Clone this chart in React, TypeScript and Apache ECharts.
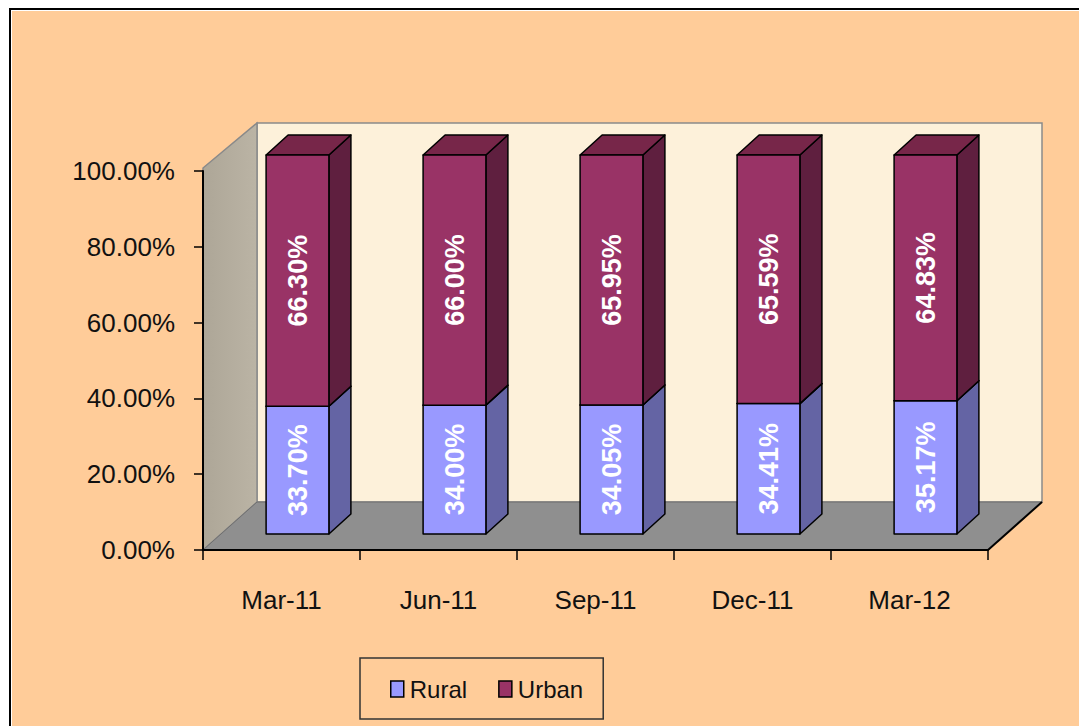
import React, { useEffect, useRef } from 'react';
import * as echarts from 'echarts';

// ---- data ----
const categories = ['Mar-11', 'Jun-11', 'Sep-11', 'Dec-11', 'Mar-12'];
const ruralShare = [33.7, 34.0, 34.05, 34.41, 35.17];
const urbanShare = [66.3, 66.0, 65.95, 65.59, 64.83];
const seriesNames = ['Rural', 'Urban'];
const yMin = 0;
const yMax = 100;
const yInterval = 20;

// ---- style ----
const FONT = 'Arial, "Liberation Sans", sans-serif';
const DEPTH_X = 54;
const DEPTH_Y = 48;
const BAR_DX = 22;
const BAR_DY = 20;
const BAR_SHIFT = 16;
const BAR_RATIO = 0.4;

const fmt = (v: number) => v.toFixed(2) + '%';

function barRenderer(front: string, side: string, top: string) {
  return (params: any, api: any) => {
    const idx = api.value(0);
    const base = api.value(1);
    const val = api.value(2);
    const p0 = api.coord([idx, base]);
    const p1 = api.coord([idx, base + val]);
    const cw = api.size([1, 0])[0];
    const w = cw * BAR_RATIO;
    const x0 = p0[0] - w / 2 + BAR_SHIFT;
    const x1 = x0 + w;
    const yb = p0[1] - BAR_SHIFT;
    const yt = p1[1] - BAR_SHIFT;
    const stroke = { stroke: '#000', lineWidth: 1.5, lineJoin: 'round' };
    return {
      type: 'group',
      children: [
        {
          type: 'polygon',
          shape: { points: [[x1, yb], [x1 + BAR_DX, yb - BAR_DY], [x1 + BAR_DX, yt - BAR_DY], [x1, yt]] },
          style: { fill: side, ...stroke },
        },
        {
          type: 'polygon',
          shape: { points: [[x0, yt], [x1, yt], [x1 + BAR_DX, yt - BAR_DY], [x0 + BAR_DX, yt - BAR_DY]] },
          style: { fill: top, ...stroke },
        },
        {
          type: 'rect',
          shape: { x: x0, y: yt, width: w, height: yb - yt },
          style: { fill: front, ...stroke },
        },
        {
          type: 'text',
          x: (x0 + x1) / 2,
          y: (yt + yb) / 2,
          rotation: Math.PI / 2,
          style: {
            text: fmt(val),
            fill: '#ffffff',
            fontSize: 27,
            fontWeight: 'bold',
            fontFamily: FONT,
            align: 'center',
            verticalAlign: 'middle',
          },
        },
      ],
    };
  };
}

function wallRenderer(params: any) {
  const cs = params.coordSys;
  const xl = cs.x;
  const xr = cs.x + cs.width;
  const yt = cs.y;
  const yb = cs.y + cs.height;
  return {
    type: 'group',
    children: [
      {
        type: 'rect',
        shape: { x: xl + DEPTH_X, y: yt - DEPTH_Y, width: cs.width, height: cs.height },
        style: { fill: '#FDF1DA', stroke: '#8a8a8a', lineWidth: 1.5 },
      },
      {
        type: 'polygon',
        shape: { points: [[xl, yt - 3], [xl + DEPTH_X, yt - DEPTH_Y], [xl + DEPTH_X, yb - DEPTH_Y], [xl, yb]] },
        style: {
          fill: new echarts.graphic.LinearGradient(0, 0, 1, 0, [
            { offset: 0, color: '#ADA697' },
            { offset: 1, color: '#BBB4A5' },
          ]),
          stroke: '#8a8a8a',
          lineWidth: 1.5,
        },
      },
      {
        type: 'polygon',
        shape: { points: [[xl, yb], [xl + DEPTH_X, yb - DEPTH_Y], [xr + DEPTH_X, yb - DEPTH_Y], [xr, yb]] },
        style: { fill: '#8F8F8F', stroke: '#6f6f6f', lineWidth: 1 },
      },
      {
        type: 'line',
        shape: { x1: xr, y1: yb, x2: xr + DEPTH_X, y2: yb - DEPTH_Y },
        style: { stroke: '#000', lineWidth: 2 },
      },
    ],
  };
}

export default function App() {
  const ref = useRef<HTMLDivElement>(null);

  useEffect(() => {
    if (!ref.current) return;
    const chart = echarts.init(ref.current, null, { renderer: 'svg' });
    const ruralData = categories.map((_, i) => [i, 0, ruralShare[i]]);
    const urbanData = categories.map((_, i) => [i, ruralShare[i], urbanShare[i]]);
    chart.setOption({
      animation: false,
      backgroundColor: '#FFCC99',
      grid: { left: 191, top: 160, width: 785, height: 379, containLabel: false },
      legend: {
        left: 348,
        top: 647,
        orient: 'horizontal',
        data: seriesNames,
        icon: 'rect',
        itemWidth: 13,
        itemHeight: 16,
        itemGap: 31,
        padding: [19, 20, 18, 30],
        borderColor: '#333',
        borderWidth: 1.5,
        itemStyle: { borderColor: '#000', borderWidth: 1.5 },
        textStyle: { fontSize: 24, fontFamily: FONT, color: '#111', padding: [0, 0, 0, 1] },
        selectedMode: false,
      },
      xAxis: {
        type: 'category',
        data: categories,
        boundaryGap: true,
        z: 5,
        axisLine: { lineStyle: { color: '#000', width: 2 } },
        axisTick: { show: true, length: 10, lineStyle: { color: '#000', width: 1.5 } },
        axisLabel: { fontSize: 26, fontFamily: FONT, color: '#111', margin: 37 },
        splitLine: { show: false },
      },
      yAxis: {
        type: 'value',
        min: yMin,
        max: yMax,
        interval: yInterval,
        z: 5,
        axisLine: { show: true, lineStyle: { color: '#000', width: 2 } },
        axisTick: { show: true, length: 9, lineStyle: { color: '#000', width: 1.5 } },
        axisLabel: { fontSize: 26, fontFamily: FONT, color: '#111', margin: 28, formatter: (v: number) => fmt(v) },
        splitLine: { show: false },
      },
      series: [
        {
          name: 'walls',
          type: 'custom',
          silent: true,
          z: 1,
          data: [[0, 0]],
          encode: { x: 0, y: 1 },
          renderItem: wallRenderer,
        },
        {
          name: seriesNames[0],
          type: 'custom',
          z: 3,
          itemStyle: { color: '#9999FF' },
          data: ruralData,
          encode: { x: 0, y: [1, 2] },
          renderItem: barRenderer('#9999FF', '#6464A4', '#7878C8'),
        },
        {
          name: seriesNames[1],
          type: 'custom',
          z: 4,
          itemStyle: { color: '#993366' },
          data: urbanData,
          encode: { x: 0, y: [1, 2] },
          renderItem: barRenderer('#993366', '#5F1F3F', '#772649'),
        },
      ],
    });
    return () => chart.dispose();
  }, []);

  return (
    <div style={{ position: 'fixed', left: 0, top: 0, width: 1079, height: 726, background: '#fff', overflow: 'hidden' }}>
      <div style={{ position: 'absolute', left: 9, top: 8, right: 0, bottom: 0, background: '#000' }} />
      <div style={{ position: 'absolute', left: 11, top: 10, right: 0, bottom: 0, background: '#fff' }} />
      <div ref={ref} style={{ position: 'absolute', left: 12, top: 11, width: 1067, height: 715, background: '#FFCC99' }} />
    </div>
  );
}
